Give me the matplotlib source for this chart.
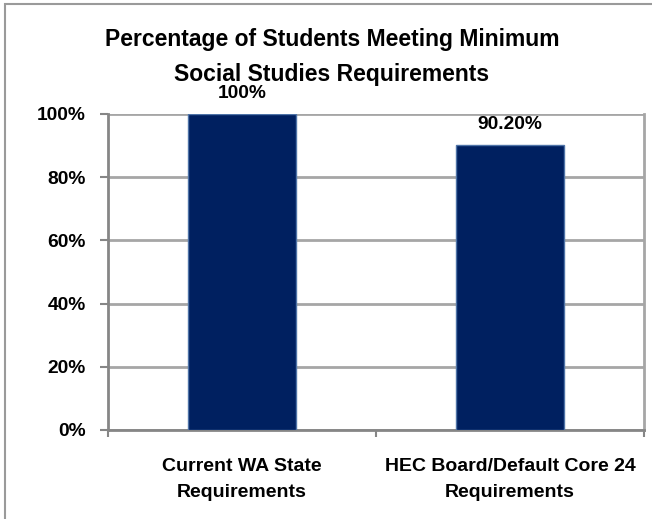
import matplotlib
matplotlib.use("Agg")
import matplotlib.pyplot as plt
from matplotlib.patches import Rectangle
from matplotlib.ticker import FuncFormatter, MultipleLocator

categories = ["Current WA State\nRequirements", "HEC Board/Default Core 24\nRequirements"]
values = [100.0, 90.2]
value_labels = ["100%", "90.20%"]
title = "Percentage of Students Meeting Minimum\nSocial Studies Requirements"

FONT = ["Liberation Sans", "DejaVu Sans"]
plt.rcParams["font.family"] = FONT
plt.rcParams["font.weight"] = "bold"

fig = plt.figure(figsize=(6.52, 5.19), dpi=100)
ax = fig.add_axes([108/652, 1-430/519, 536/652, 316/519])

x = list(range(len(categories)))
ax.bar(x, values, width=0.4, color="#002060", edgecolor="#4f74a8", linewidth=1.0, zorder=3)
ax.set_xlim(-0.5, len(categories) - 0.5)
ax.set_ylim(0, 100)
ax.yaxis.set_major_locator(MultipleLocator(20))
ax.yaxis.set_major_formatter(FuncFormatter(lambda v, p: f"{v:.0f}%"))
ax.grid(axis="y", color="#a6a6a6", linewidth=2.0, zorder=0)
ax.set_axisbelow(True)

ax.set_xticks([-0.5, 0.5, 1.5])
ax.set_xticklabels([])
ax.set_xticks(x, minor=True)
ax.set_xticklabels(categories, minor=True, fontsize=14, fontweight="bold", linespacing=1.68)
ax.tick_params(axis="x", which="minor", length=0, pad=20)
ax.tick_params(axis="x", which="major", length=5, width=1.5, color="#868686", direction="out")
ax.tick_params(axis="y", length=6, width=1.5, color="#868686", labelsize=13.8, pad=10)
for t in ax.get_yticklabels():
    t.set_fontweight("bold")

ax.spines["top"].set_visible(False)
ax.spines["right"].set_color("#a6a6a6")
ax.spines["right"].set_linewidth(2.0)
ax.spines["left"].set_color("#868686")
ax.spines["left"].set_linewidth(2.0)
ax.spines["bottom"].set_color("#868686")
ax.spines["bottom"].set_linewidth(2.0)

for xi, v, lab in zip(x, values, value_labels):
    ax.annotate(lab, (xi, v), xytext=(0, 15), textcoords="offset points",
                ha="center", va="center", fontsize=13.8, fontweight="bold", clip_on=False)

fig.text(332/652, 1-57/519, title, ha="center", va="center", fontsize=16.5,
         fontweight="bold", linespacing=1.63)

# outer chart frame (cropped on right/bottom)
fig.patches.append(Rectangle((4.5/652, -0.1), 1.2, 1-4.5/519 + 0.1, transform=fig.transFigure,
                             fill=False, edgecolor="#9a9a9a", linewidth=1.5))

fig.savefig("out.png", dpi=100)
